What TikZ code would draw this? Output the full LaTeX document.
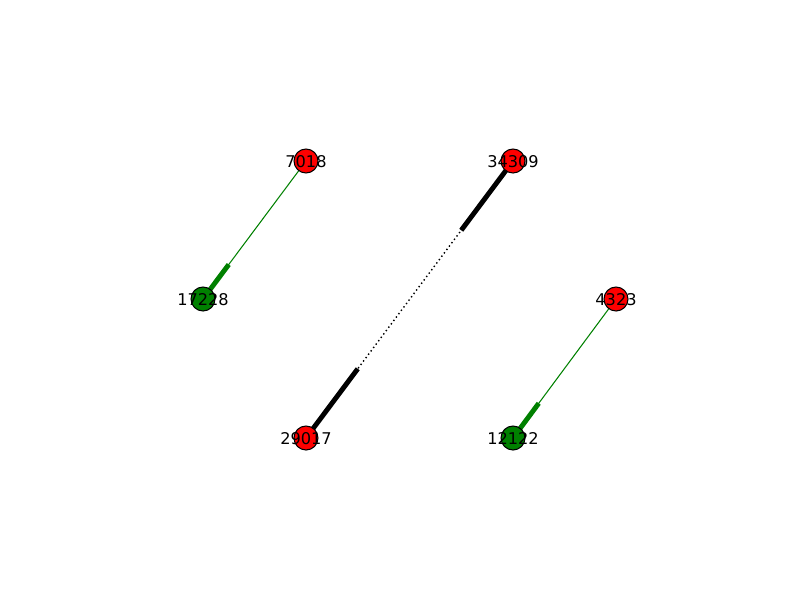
\documentclass[tikz,border=0pt]{standalone}
\usepackage{fontspec}
\setmainfont{DejaVu Sans}
\usetikzlibrary{calc,backgrounds}
\definecolor{mplgreen}{RGB}{0,128,0}
\tikzset{
    vertex/.style={circle, draw=black, fill=#1, line width=0.75pt, minimum size=0.6cm, inner sep=0pt},
    lbl/.style={inner sep=0pt, font=\fontsize{11.5}{13}\selectfont},
    thinedge/.style={line width=0.75pt, draw=#1},
    headedge/.style={line width=3.5pt, draw=#1},
}

\begin{document}
\begin{tikzpicture}[x=0.025cm, y=-0.025cm]
                \useasboundingbox (0,0) rectangle (800,600);
                
                % nodes with their labels
                \foreach \n/\x/\y/\c in {7018/306/161/red, 17228/203/299/mplgreen, 34309/513/161/red, 29017/306/438/red, 4323/616/299/red, 12122/513/438/mplgreen} {
                    \node[vertex=\c] (n\n) at (\x,\y) {};
                    \node[lbl] (l\n) at ([yshift=-0.6pt]n\n.center) {\n};
                }
                
                % draw edges behind the nodes
                \begin{pgfonlayer}{background}
                    \foreach \a/\b/\c in {7018/17228/mplgreen, 4323/12122/mplgreen} {
                        \draw[thinedge=\c] (n\a.center) -- (n\b.center);
                        \draw[headedge=\c] (n\b.center) -- ($(n\b.center)!0.25!(n\a.center)$);
                    }
                    \draw[thinedge=black, line width=1pt, dash pattern=on 1pt off 2pt] (n34309.center) -- (n29017.center);
                    \draw[headedge=black] (n29017.center) -- ($(n29017.center)!0.25!(n34309.center)$);
                    \draw[headedge=black] (n34309.center) -- ($(n34309.center)!0.25!(n29017.center)$);
                \end{pgfonlayer}
\end{tikzpicture}
\end{document}
